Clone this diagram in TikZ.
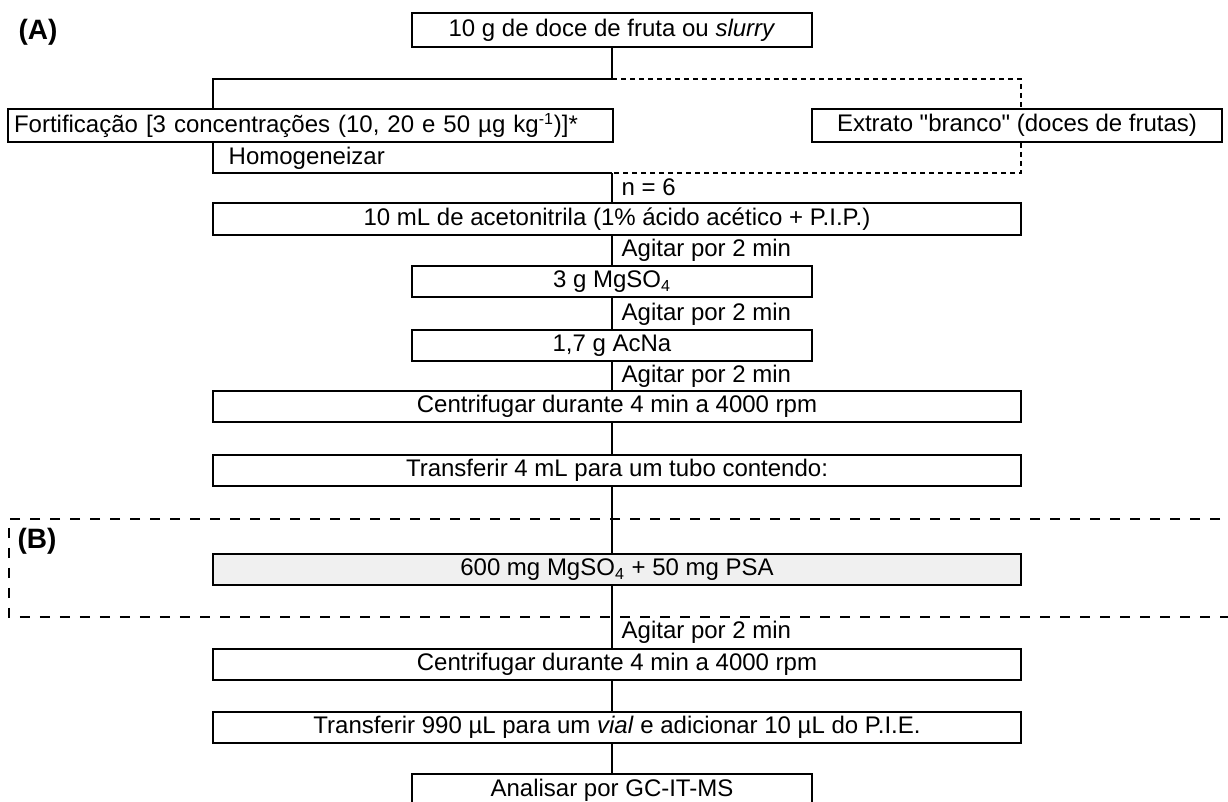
\documentclass[tikz,border=0pt]{standalone}
\usepackage{fontspec}
\setmainfont{Liberation Sans}
\usepackage{tikz}
\usetikzlibrary{positioning}
\tikzstyle{stepbox}  = [rectangle, minimum height=15.5pt, text centered, draw=black, line width=1pt, inner sep=2pt]
\tikzstyle{shortbox} = [stepbox, minimum width=200pt]
\tikzstyle{longbox}  = [stepbox, minimum width=404pt]
\tikzstyle{greybox}  = [longbox, fill=black!6]
\tikzstyle{note}     = [anchor=west, inner sep=0pt, xshift=4.5pt]
\tikzstyle{tag}      = [font=\bfseries\fontsize{14}{16}\selectfont]
\tikzstyle{link}     = [line width=0.7pt]
\tikzstyle{dashlink} = [line width=0.8pt, dash pattern=on 2.5pt off 2pt]
\tikzstyle{cleanup}  = [line width=1.4pt, dash pattern=on 5pt off 5pt]

\begin{document}
\begin{tikzpicture}[x=0.5pt, y=-0.5pt, font=\fontsize{12}{14}\selectfont]
            \clip (0,0) rectangle (1228,802);
            \node[tag] (tagA) at (38,32) {(A)};
            \node[shortbox, minimum height=17pt] (sample) at (612,30) {10 g de doce de fruta ou \textit{slurry}};
            \node[stepbox, minimum height=16.5pt, text width=296.5pt, inner xsep=3pt, align=left] (spike) at (310.5,125.5) {Fortificação [3 concentrações (10, 20 e 50 µg kg\textsuperscript{-1})]*};
            \node[stepbox, minimum width=205pt, minimum height=16.5pt] (extract) at (1017,125.5) {Extrato \textquotedbl branco\textquotedbl{} (doces de frutas)};
            \node[longbox, minimum height=16pt] (solvent) at (617,219) {10 mL de acetonitrila (1\% ácido acético + P.I.P.)};
            \node[shortbox] (salt) at (612,282) {3 g MgSO\textsubscript{4}};
            \node[shortbox] (acetate) at (612,346) {1,7 g AcNa};
            \node[longbox] (spin1) at (617,406.5) {Centrifugar durante 4 min a 4000 rpm};
            \node[longbox] (aliquot) at (617,470.5) {Transferir 4 mL para um tubo contendo:};
            \node[tag] (tagB) at (37,541) {(B)};
            \node[greybox] (dspe) at (617,570) {600 mg MgSO\textsubscript{4} + 50 mg PSA};
            \node[longbox] (spin2) at (617,664.5) {Centrifugar durante 4 min a 4000 rpm};
            \node[longbox] (vialprep) at (617,727.5) {Transferir 990 µL para um \textit{vial} e adicionar 10 µL do P.I.E.};
            \node[shortbox, minimum height=16pt] (gcms) at (612,790) {Analisar por GC-IT-MS};

            % split into fortified samples and blank extract
            \coordinate (split) at (612,79);
            \coordinate (leftbr) at (213,79);
            \coordinate (rightbr) at (1021,79);
            \coordinate (merge) at (612,173);
            \coordinate (leftmg) at (213,173);
            \coordinate (rightmg) at (1021,173);

            \draw[link] (sample.south) -- (split) -- (leftbr) -- (leftbr |- spike.north);
            \draw[dashlink] (split) -- (rightbr) -- (rightbr |- extract.north);
            \draw[link] (leftbr |- spike.south) -- (leftmg) node[note, midway, xshift=3pt] {Homogeneizar} -- (merge);
            \draw[dashlink] (rightbr |- extract.south) -- (rightmg) -- (merge);
            \draw[link] (merge) -- (merge |- solvent.north) node[note, midway] {n = 6};

            % extraction
            \draw[link] (solvent.south -| salt.north) -- (salt.north) node[note, midway] {Agitar por 2 min};
            \draw[link] (salt.south) -- (acetate.north) node[note, midway] {Agitar por 2 min};
            \draw[link] (acetate.south) -- (acetate.south |- spin1.north) node[note, midway] {Agitar por 2 min};
            \draw[link] (spin1.south -| salt.south) -- (aliquot.north -| salt.south);
            \draw[link] (aliquot.south -| salt.south) -- (dspe.north -| salt.south);

            % clean-up step (B)
            \draw[cleanup] (1240,519) -- (9,519) -- (9,617) -- (1240,617);
            \draw[link] (dspe.south -| salt.south) -- (spin2.north -| salt.south) node[note, pos=0.75] {Agitar por 2 min};
            \draw[link] (spin2.south -| salt.south) -- (vialprep.north -| salt.south);
            \draw[link] (vialprep.south -| salt.south) -- (gcms.north);
        \end{tikzpicture}
\end{document}
